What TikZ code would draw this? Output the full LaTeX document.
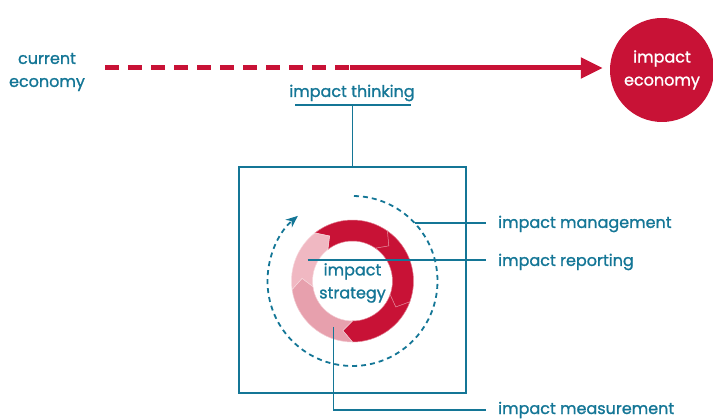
\documentclass[tikz,border=0pt]{standalone}
\usepackage{fontspec}
\setmainfont{Poppins}[FakeBold=1.2]
\usetikzlibrary{arrows.meta}
\definecolor{impactred}{RGB}{200,18,54}
\definecolor{ringlight}{RGB}{240,184,194}
\definecolor{ringmid}{RGB}{231,160,173}
\definecolor{teal}{RGB}{20,118,150}
\tikzset{
    labeltext/.style={
        text=teal, % 文字颜色
        inner sep=0,
        align=center,
        font=\fontsize{16}{23}\selectfont
    },
    ecocircle/.style={
        circle,
        fill=impactred, % 填充红色
        minimum size=104pt,
        inner sep=0,
        text=white,
        align=center,
        font=\fontsize{16}{23}\selectfont
    },
    guide/.style={
        draw=teal,
        line width=1.3pt
    },
    mainline/.style={
        draw=impactred,
        line width=5pt
    }
}
\begin{document}
\begin{tikzpicture}[
                x=1pt, y=1pt,
                every node/.style={labeltext}
            ]
            \useasboundingbox (0,0) rectangle (713,419);
            % 当前经济 -> 影响经济
            \node (cur) at (47,347) {current\\economy};
            \node[ecocircle] (eco) at (662,349) {impact\\economy};
            \coordinate (ds) at (105,351);
            \coordinate (dm) at (350,351);
            \draw[mainline, dash pattern=on 14pt off 9pt] (ds) -- (dm);
            \draw[mainline, shorten >=7pt, -{Triangle[length=22pt, width=20pt]}] (dm) -- (dm -| eco.west);
            % impact thinking
            \node (think) at (352,326) {impact thinking};
            \coordinate (ul) at (295,314);
            \coordinate (ur) at (411,314);
            \draw[guide] (ul) -- (ur);
            \node[draw=teal, line width=1.5pt, minimum width=227pt, minimum height=226pt] (box) at (352.5,139) {};
            \draw[guide] (box.north) -- (box.north |- ul);
            % 环形
            \coordinate (c) at (352.5,138);
            \begin{scope}[shift={(c)}]
                \foreach \a/\b/\col in {128/55/impactred, 55/-20/impactred, -20/-90/impactred, -90/-172/ringmid, -172/-232/ringlight}
                    \fill[\col, draw=white!45!\col, line width=0.5pt] (\a:61) arc[start angle=\a, end angle=\b, radius=61]
                        -- ({\b-11}:50.5) -- (\b:40) arc[start angle=\b, end angle=\a, radius=40]
                        -- ({\a-11}:50.5) -- cycle;
                \draw[teal, line width=1.8pt, dash pattern=on 5pt off 4pt, -{Stealth[length=12pt, width=10pt]}]
                    (89:85) arc[start angle=89, end angle=-230, radius=85];
                \coordinate (m) at (43:85);
                \coordinate (r) at (-45,21);
                \coordinate (s) at (-19,-46);
            \end{scope}
            \node (strat) at (352.5,136) {impact\\strategy};
            % 标签
            \node[anchor=west] (mgmt) at (498,195) {impact management};
            \node[anchor=west] (rep) at (498,157) {impact reporting};
            \node[anchor=west] (meas) at (498,9) {impact measurement};
            \draw[guide, shorten >=12pt] (m) -- (m -| mgmt.west);
            \draw[guide, shorten >=12pt] (r) -- (r -| rep.west);
            \draw[guide, shorten >=12pt] (s) |- (meas.west);
\end{tikzpicture}
\end{document}
